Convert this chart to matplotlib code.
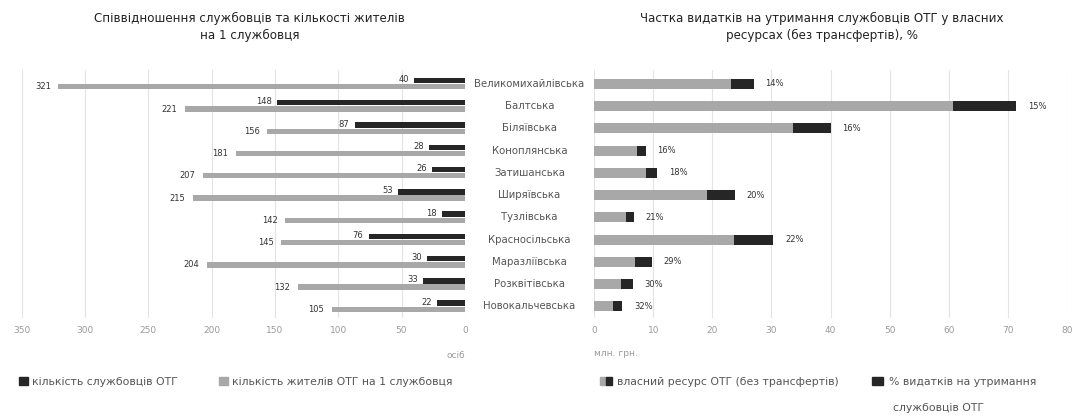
"""Two-panel horizontal bar chart: staff per OTG and share of staff expenses."""
import numpy as np
import matplotlib
matplotlib.use("Agg")
import matplotlib.pyplot as plt
from matplotlib.patches import Patch
from matplotlib.legend_handler import HandlerTuple

communities = ["Великомихайлівська", "Балтська", "Біляївська", "Коноплянська",
               "Затишанська", "Ширяївська", "Тузлівська", "Красносільська",
               "Маразліївська", "Розквітівська", "Новокальчевська"]
staff = [40, 148, 87, 28, 26, 53, 18, 76, 30, 33, 22]
residents_per_staff = [321, 221, 156, 181, 207, 215, 142, 145, 204, 132, 105]
own_resource = [27.0, 71.4, 40.0, 8.7, 10.6, 23.8, 6.7, 30.3, 9.7, 6.5, 4.7]
staff_pct = [14, 15, 16, 16, 18, 20, 21, 22, 29, 30, 32]

DARK = "#262626"
GRAY = "#a8a8a8"
TICK = "#9a9a9a"
TEXT = "#333333"

plt.rcParams["font.family"] = ["DejaVu Sans"]

fig = plt.figure(figsize=(10.81, 4.16), dpi=100)
axl = fig.add_axes([0.020, 0.236, 0.410, 0.596])
axr = fig.add_axes([0.5498, 0.236, 0.437, 0.596])

y = np.arange(len(communities))

# left panel
axl.barh(y - 0.15, staff, height=0.24, color=DARK, zorder=3)
axl.barh(y + 0.13, residents_per_staff, height=0.24, color=GRAY, zorder=3)
for yi, v in zip(y, staff):
    axl.text(v + 4, yi - 0.19, str(v), ha="right", va="center", fontsize=6, color=TEXT)
for yi, v in zip(y, residents_per_staff):
    axl.text(v + 6, yi + 0.13, str(v), ha="right", va="center", fontsize=6, color=TEXT)
axl.set_xlim(350, 0)
axl.set_xticks(np.arange(0, 351, 50))
axl.text(1.0, -0.15, "осіб", transform=axl.transAxes, ha="right", va="center",
         fontsize=6.5, color=TICK)

# right panel
own = np.array(own_resource)
pct = np.array(staff_pct) / 100.0
rest = own * (1 - pct)
axr.barh(y, rest, height=0.45, color=GRAY, zorder=3)
axr.barh(y, own * pct, left=rest, height=0.45, color=DARK, zorder=3)
for yi, v, p in zip(y, own, staff_pct):
    axr.text(v + 2.0, yi, f"{p}%", ha="left", va="center", fontsize=6, color=TEXT)
axr.set_xlim(0, 80)
axr.set_xticks(np.arange(0, 81, 10))
axr.text(0.0, -0.145, "млн. грн.", transform=axr.transAxes, ha="left", va="center",
         fontsize=6.5, color=TICK)

for ax in (axl, axr):
    ax.set_ylim(10.51, -0.63)
    ax.set_yticks([])
    for s in ax.spines.values():
        s.set_visible(False)
    ax.grid(axis="x", color="#e3e3e3", linewidth=0.8, zorder=0)
    ax.tick_params(axis="x", length=0, labelsize=6.5, labelcolor=TICK, pad=6)

# community names between panels
xc = (0.020 + 0.410 + 0.5498) / 2
for yi, name in zip(y, communities):
    disp = axr.transData.transform((0, yi))
    fy = fig.transFigure.inverted().transform(disp)[1]
    fig.text(xc, fy, name, ha="center", va="center", fontsize=7.3, color="#555555")

fig.text(0.231, 0.935, "Співвідношення службовців та кількості жителів\nна 1 службовця",
         ha="center", va="center", fontsize=8.6, color="#222222", linespacing=1.45)
fig.text(0.760, 0.935, "Частка видатків на утримання службовців ОТГ у власних\nресурсах (без трансфертів), %",
         ha="center", va="center", fontsize=8.6, color="#222222", linespacing=1.45)

hl = [Patch(color=DARK), Patch(color=GRAY)]
fig.legend(hl, ["кількість службовців ОТГ", "кількість жителів ОТГ на 1 службовця"],
           loc="center left", bbox_to_anchor=(0.014, 0.082), ncol=2, frameon=False,
           fontsize=7.8, handlelength=0.8, handleheight=0.8, columnspacing=3.8,
           handletextpad=0.4, labelcolor="#555555", borderaxespad=0)
hr = [(Patch(color=GRAY), Patch(color=DARK)), Patch(color=DARK)]
fig.legend(hr, ["власний ресурс ОТГ (без трансфертів)", "% видатків на утримання"],
           handler_map={tuple: HandlerTuple(ndivide=None, pad=0)},
           loc="center left", bbox_to_anchor=(0.551, 0.082), ncol=2, frameon=False,
           fontsize=7.8, handlelength=1.1, handleheight=0.8, columnspacing=3.0,
           handletextpad=0.5, labelcolor="#555555", borderaxespad=0)
fig.text(0.826, 0.02, "службовців ОТГ", ha="left", va="center", fontsize=7.8,
         color="#555555")

fig.savefig("out.png", dpi=100, facecolor="white")
